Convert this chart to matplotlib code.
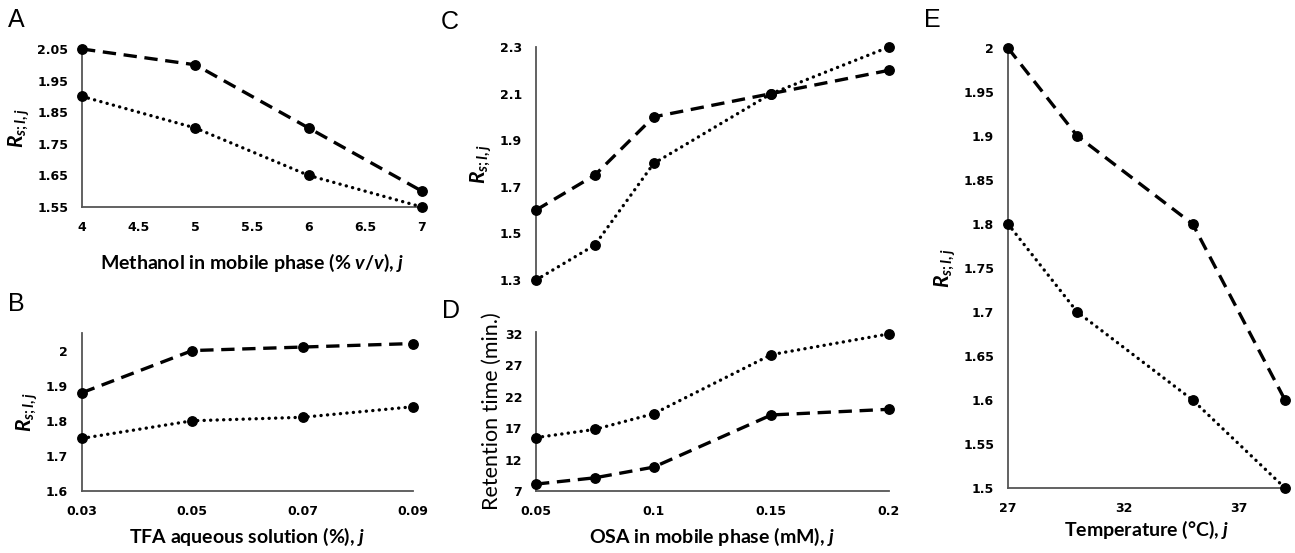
import matplotlib
matplotlib.use('Agg')
import matplotlib.pyplot as plt
from matplotlib.ticker import FuncFormatter

# data
A_x = [4, 5, 6, 7]
A_dash = [2.05, 2.0, 1.8, 1.6]
A_dot = [1.9, 1.8, 1.65, 1.55]

B_x = [0.03, 0.05, 0.07, 0.09]
B_dash = [1.88, 2.0, 2.01, 2.02]
B_dot = [1.75, 1.80, 1.81, 1.84]

C_x = [0.05, 0.075, 0.1, 0.15, 0.2]
C_dash = [1.6, 1.75, 2.0, 2.1, 2.2]
C_dot = [1.3, 1.45, 1.8, 2.1, 2.3]

D_x = [0.05, 0.075, 0.1, 0.15, 0.2]
D_dash = [8.1, 9.1, 10.8, 19.1, 20.0]
D_dot = [15.5, 16.8, 19.3, 28.7, 32.0]

E_x = [27, 30, 35, 39]
E_dash = [2.0, 1.9, 1.8, 1.6]
E_dot = [1.8, 1.7, 1.6, 1.5]

plt.rcParams['mathtext.fontset'] = 'custom'
plt.rcParams['mathtext.it'] = 'Lato:italic:bold'
plt.rcParams['mathtext.rm'] = 'Lato:bold'
plt.rcParams['mathtext.bf'] = 'Lato:bold'

RS = r'$R_{s;I,j}$'
tickfont = dict(family='DejaVu Sans', weight='bold', size=9)


def panel(rect, x, dash, dot, xlim, ylim, xticks, yticks, xlabel, ylabel,
          letter, letterpos, show_x=True, ylab_font=None, xpad=6):
    ax = fig.add_axes(rect)
    ax.plot(x, dash, color='black', lw=2.4, linestyle=(0, (4, 2.3)),
            dash_capstyle='butt', marker='o', ms=6.8, clip_on=False, zorder=3)
    ax.plot(x, dot, color='black', lw=2.4, linestyle=(0, (0.05, 1.9)),
            dash_capstyle='round', marker='o', ms=6.8, clip_on=False, zorder=3)
    ax.set_xlim(xlim)
    ax.set_ylim(ylim)
    ax.set_yticks(yticks)
    for s in ['top', 'right']:
        ax.spines[s].set_visible(False)
    for s in ['left', 'bottom']:
        ax.spines[s].set_color('#555555')
        ax.spines[s].set_linewidth(1.3)
    ax.tick_params(length=0, pad=10)
    ax.yaxis.set_major_formatter(FuncFormatter(lambda v, p: '%g' % round(v, 4)))
    for t in ax.get_yticklabels():
        t.set(**tickfont)
    if show_x:
        ax.set_xticks(xticks)
        ax.xaxis.set_major_formatter(FuncFormatter(lambda v, p: '%g' % round(v, 4)))
        for t in ax.get_xticklabels():
            t.set(**tickfont)
        ax.set_xlabel(xlabel, family='Lato', weight='bold', fontsize=14, labelpad=xpad)
    else:
        ax.spines['bottom'].set_visible(False)
        ax.set_xticks([])
    if ylab_font is None:
        ax.set_ylabel(ylabel, fontsize=15, labelpad=4)
    else:
        ax.set_ylabel(ylabel, **ylab_font)
    fig.text(letterpos[0], letterpos[1], letter, family='Liberation Sans',
             fontsize=18, ha='left', va='top')
    return ax


fig = plt.figure(figsize=(12.95, 5.53), dpi=100)

W, H = 1295.0, 553.0


def r(l, t, rgt, b):
    return [l / W, 1 - b / H, (rgt - l) / W, (b - t) / H]


panel(r(82, 49, 422, 207), A_x, A_dash, A_dot, (4, 7), (1.55, 2.05),
      [4, 4.5, 5, 5.5, 6, 6.5, 7], [1.55, 1.65, 1.75, 1.85, 1.95, 2.05],
      r'Methanol in mobile phase (% $v/v$), $j$', RS, 'A', (8 / W, 1 - 8 / H),
      xpad=13)

panel(r(82, 333, 413, 491), B_x, B_dash, B_dot, (0.03, 0.09), (1.6, 2.05),
      [0.03, 0.05, 0.07, 0.09], [1.6, 1.7, 1.8, 1.9, 2.0],
      r'TFA aqueous solution (%), $j$', RS, 'B', (8 / W, 1 - 292 / H))

panel(r(536, 47, 889, 280), C_x, C_dash, C_dot, (0.05, 0.2), (1.3, 2.3),
      [], [1.3, 1.5, 1.7, 1.9, 2.1, 2.3],
      '', RS, 'C', (441 / W, 1 - 10 / H), show_x=False)

panel(r(536, 332, 889, 491), D_x, D_dash, D_dot, (0.05, 0.2), (7, 32.3),
      [0.05, 0.1, 0.15, 0.2], [7, 12, 17, 22, 27, 32],
      r'OSA in mobile phase (mM), $j$', 'Retention time (min.)', 'D',
      (442 / W, 1 - 299 / H),
      ylab_font=dict(family='Lato', fontsize=15.5, labelpad=2))

panel(r(1008, 48, 1285, 488), E_x, E_dash, E_dot, (27, 39), (1.5, 2.0),
      [27, 32, 37], [1.5, 1.55, 1.6, 1.65, 1.7, 1.75, 1.8, 1.85, 1.9, 1.95, 2.0],
      r'Temperature ($\degree$C), $j$', RS, 'E', (924 / W, 1 - 8 / H), xpad=3)

fig.savefig('out.png', dpi=100)
